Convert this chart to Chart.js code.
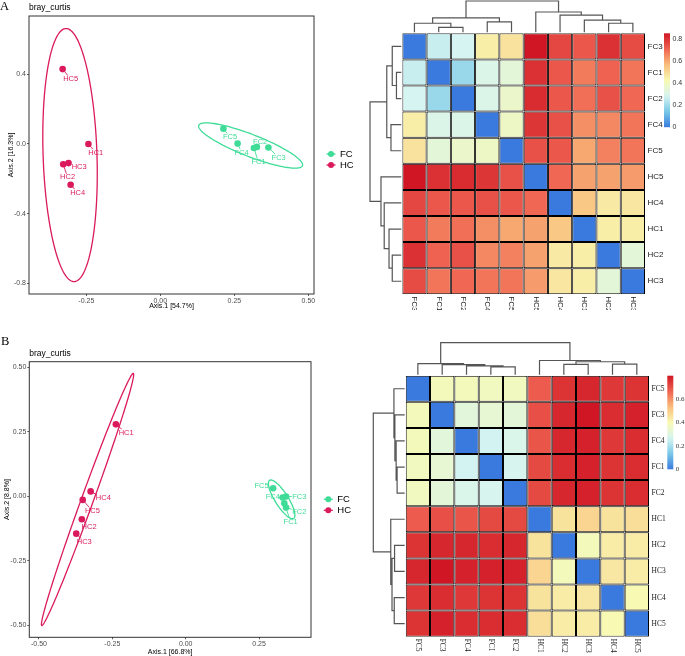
<!DOCTYPE html>
<html lang="en">
<head>
<meta charset="UTF-8">
<title>bray_curtis PCoA and distance heatmaps</title>
<script src="https://cdn.jsdelivr.net/npm/chart.js@4.4.0/dist/chart.umd.min.js"></script>
<style>
  body { margin: 0; background: #fff; }
  #wrap { position: relative; width: 685px; height: 656px; overflow: hidden; }
  canvas { position: absolute; }
  .tag { position: absolute; font-family: "Liberation Serif", "Times New Roman", serif; font-size: 12.5px; line-height: 12px; color: #000; }
</style>
</head>
<body>
<div id="wrap">
  <canvas id="pcoaA" width="360" height="310" style="left:0;top:0"></canvas>
  <canvas id="heatA" width="325" height="310" style="left:360px;top:0"></canvas>
  <canvas id="pcoaB" width="360" height="326" style="left:0;top:330px"></canvas>
  <canvas id="heatB" width="325" height="326" style="left:360px;top:330px"></canvas>
  <div class="tag" style="left:0;top:0">A</div>
  <div class="tag" style="left:1px;top:335px">B</div>
</div>
<script>
// ---- data -------------------------------------------------------------
var groups = ['FC', 'HC'];
var groupColors = ['#3EDC97', '#DA1A5C'];
var namesFC = ['FC1', 'FC2', 'FC3', 'FC4', 'FC5'];
var namesHC = ['HC1', 'HC2', 'HC3', 'HC4', 'HC5'];

// panel A, PCoA
var a_FC_axis1 = [0.316, 0.326, 0.365, 0.261, 0.213];
var a_FC_axis2 = [-0.023, -0.017, -0.020, 0.002, 0.088];
var a_HC_axis1 = [-0.243, -0.328, -0.310, -0.303, -0.330];
var a_HC_axis2 = [0.000, -0.117, -0.110, -0.234, 0.430];
var a_xTicks = [-0.25, 0, 0.25, 0.5];
var a_yTicks = [-0.8, -0.4, 0, 0.4];
// ellipses: centre x, centre y, semi-axis 1 (dx, dy), semi-axis 2 (dx, dy)
var a_FC_ellipse = [0.305, -0.009, 0.175, -0.116, 0.0136, 0.0588];
var a_HC_ellipse = [-0.305, -0.064, -0.0135, 0.727, 0.091, 0];

// panel B, PCoA
var b_FC_axis1 = [0.336, 0.342, 0.342, 0.330, 0.298];
var b_FC_axis2 = [-0.027, -0.044, -0.001, -0.005, 0.031];
var b_HC_axis1 = [-0.238, -0.354, -0.373, -0.324, -0.351];
var b_HC_axis2 = [0.279, -0.089, -0.145, 0.019, -0.014];
var b_xTicks = [-0.5, -0.25, 0, 0.25];
var b_yTicks = [-0.5, -0.25, 0, 0.25, 0.5];
var b_FC_ellipse = [0.327, -0.012, 0.041, -0.074, 0.019, 0.0135];
var b_HC_ellipse = [-0.3345, -0.0124, 0.156, 0.489, 0.0192, -0.008];

// panel A, distance heatmap
var a_order = ['FC3', 'FC1', 'FC2', 'FC4', 'FC5', 'HC5', 'HC4', 'HC1', 'HC2', 'HC3'];
var a_dist = [
  [0, 0.26, 0.28, 0.45, 0.48, 0.85, 0.76, 0.73, 0.80, 0.75],
  [0.26, 0, 0.19, 0.30, 0.34, 0.80, 0.73, 0.67, 0.71, 0.68],
  [0.28, 0.19, 0, 0.30, 0.37, 0.81, 0.73, 0.69, 0.74, 0.70],
  [0.45, 0.30, 0.30, 0, 0.38, 0.79, 0.74, 0.64, 0.65, 0.68],
  [0.48, 0.34, 0.37, 0.38, 0, 0.74, 0.73, 0.60, 0.66, 0.68],
  [0.85, 0.80, 0.81, 0.79, 0.74, 0, 0.70, 0.61, 0.61, 0.62],
  [0.76, 0.73, 0.73, 0.74, 0.73, 0.70, 0, 0.54, 0.46, 0.47],
  [0.73, 0.67, 0.69, 0.64, 0.60, 0.61, 0.54, 0, 0.45, 0.45],
  [0.80, 0.71, 0.74, 0.65, 0.66, 0.61, 0.46, 0.45, 0, 0.34],
  [0.75, 0.68, 0.70, 0.68, 0.68, 0.62, 0.47, 0.45, 0.34, 0]
];
// merges: [left, right, relative height]; numbers are leaves, 'mK' is merge K
var a_tree = [[1, 2, 0.155], [0, 'm0', 0.289], [3, 4, 0.33], ['m1', 'm2', 0.464],
  [8, 9, 0.289], [7, 'm4', 0.392], [6, 'm5', 0.546], [5, 'm6', 0.649], ['m3', 'm7', 1]];
var a_keyTicks = [0, 0.2, 0.4, 0.6, 0.8];

// panel B, distance heatmap
var b_order = ['FC5', 'FC3', 'FC4', 'FC1', 'FC2', 'HC1', 'HC2', 'HC3', 'HC4', 'HC5'];
var b_dist = [
  [0, 0.38, 0.38, 0.37, 0.37, 0.68, 0.75, 0.77, 0.74, 0.75],
  [0.38, 0, 0.31, 0.33, 0.32, 0.70, 0.77, 0.80, 0.76, 0.78],
  [0.38, 0.31, 0, 0.26, 0.28, 0.69, 0.77, 0.78, 0.74, 0.76],
  [0.37, 0.33, 0.26, 0, 0.27, 0.71, 0.76, 0.78, 0.75, 0.76],
  [0.37, 0.32, 0.28, 0.27, 0, 0.71, 0.77, 0.78, 0.75, 0.76],
  [0.68, 0.70, 0.69, 0.71, 0.71, 0, 0.45, 0.48, 0.45, 0.46],
  [0.75, 0.77, 0.77, 0.76, 0.77, 0.45, 0, 0.38, 0.43, 0.43],
  [0.77, 0.80, 0.78, 0.78, 0.78, 0.48, 0.38, 0, 0.44, 0.43],
  [0.74, 0.76, 0.74, 0.75, 0.75, 0.45, 0.43, 0.44, 0, 0.40],
  [0.75, 0.78, 0.76, 0.76, 0.76, 0.46, 0.43, 0.43, 0.40, 0]
];
var b_tree = [[3, 4, 0.242], [2, 'm0', 0.273], [1, 'm1', 0.313], [0, 'm2', 0.343],
  [6, 7, 0.323], [8, 9, 0.333], ['m4', 'm5', 0.404], [5, 'm6', 0.444], ['m3', 'm7', 1]];
var b_keyTicks = [0, 0.2, 0.4, 0.6];

// ---- helpers ----------------------------------------------------------
var SANS = '"Liberation Sans", Arial, sans-serif';
var SERIF = '"Liberation Serif", "Times New Roman", serif';
Chart.defaults.font.family = SANS;
Chart.defaults.animation = false;

var heatStops = [[0, [58, 122, 222]], [0.17, [122, 202, 232]], [0.33, [214, 244, 242]],
  [0.5, [248, 249, 178]], [0.67, [249, 188, 122]], [0.83, [240, 100, 82]], [1, [208, 22, 36]]];

function heatColor(t) {
  t = Math.max(0, Math.min(1, t));
  for (var i = 1; i < heatStops.length; i++) {
    if (t <= heatStops[i][0]) {
      var a = heatStops[i - 1], b = heatStops[i], f = (t - a[0]) / (b[0] - a[0]);
      var c = a[1].map(function (v, k) { return Math.round(v + (b[1][k] - v) * f); });
      return 'rgb(' + c.join(',') + ')';
    }
  }
  return 'rgb(208,22,36)';
}

function drawEllipse(chart, e, color) {
  var xs = chart.scales.x, ys = chart.scales.y, ctx = chart.ctx;
  ctx.save();
  ctx.beginPath();
  for (var k = 0; k <= 160; k++) {
    var t = k / 160 * 2 * Math.PI;
    var px = xs.getPixelForValue(e[0] + Math.cos(t) * e[2] + Math.sin(t) * e[4]);
    var py = ys.getPixelForValue(e[1] + Math.cos(t) * e[3] + Math.sin(t) * e[5]);
    if (k) ctx.lineTo(px, py); else ctx.moveTo(px, py);
  }
  ctx.closePath();
  ctx.strokeStyle = color;
  ctx.lineWidth = 1.3;
  ctx.stroke();
  ctx.restore();
}

function pcoaDecor(cfg) {
  return {
    id: 'pcoaDecor',
    beforeDatasetsDraw: function (chart) {
      cfg.ellipses.forEach(function (e, k) { drawEllipse(chart, e, groupColors[k]); });
    },
    afterDatasetsDraw: function (chart) {
      var ctx = chart.ctx, a = chart.chartArea;
      ctx.save();
      // sample labels with short leader lines
      ctx.font = '7.5px ' + SANS;
      ctx.textAlign = 'center';
      ctx.textBaseline = 'middle';
      chart.data.datasets.forEach(function (ds, k) {
        chart.getDatasetMeta(k).data.forEach(function (pt, i) {
          var name = cfg.names[k][i], off = cfg.offsets[name];
          var lx = pt.x + off[0], ly = pt.y + off[1];
          var hw = ctx.measureText(name).width / 2 + 0.5, hh = 3.5;
          var s = Math.min(off[0] ? hw / Math.abs(off[0]) : 1e9, off[1] ? hh / Math.abs(off[1]) : 1e9);
          if (s < 1) {
            ctx.beginPath();
            ctx.moveTo(pt.x, pt.y);
            ctx.lineTo(lx - off[0] * s, ly - off[1] * s);
            ctx.strokeStyle = groupColors[k];
            ctx.lineWidth = 0.9;
            ctx.stroke();
          }
          ctx.fillStyle = groupColors[k];
          ctx.fillText(name, lx, ly);
        });
      });
      // panel border
      ctx.strokeStyle = '#333';
      ctx.lineWidth = 1;
      ctx.strokeRect(a.left, a.top, a.right - a.left, a.bottom - a.top);
      // title
      ctx.fillStyle = '#000';
      ctx.textAlign = 'left';
      ctx.font = '8.5px ' + SANS;
      ctx.fillText(cfg.title, a.left, cfg.titleY);
      // legend
      ctx.font = '9.5px ' + SANS;
      groups.forEach(function (g, k) {
        var y = cfg.legend.y[k], x = cfg.legend.x;
        ctx.strokeStyle = groupColors[k];
        ctx.lineWidth = 1.3;
        ctx.beginPath();
        ctx.moveTo(x - 4.5, y);
        ctx.lineTo(x + 4.5, y);
        ctx.stroke();
        ctx.fillStyle = groupColors[k];
        ctx.beginPath();
        ctx.arc(x, y, 3, 0, 2 * Math.PI);
        ctx.fill();
        ctx.fillStyle = '#000';
        ctx.fillText(g, x + 9, y);
      });
      ctx.restore();
    }
  };
}

function pcoaAxis(range, ticks, dec, title, isX, fixed, titlePad) {
  return {
    type: 'linear',
    min: range[0],
    max: range[1],
    afterBuildTicks: function (s) { s.ticks = ticks.map(function (v) { return { value: v }; }); },
    ticks: {
      autoSkip: false, maxRotation: 0, padding: 1, color: '#4D4D4D', font: { size: 7 },
      callback: function (v) { return Number(v).toFixed(dec); }
    },
    grid: { drawOnChartArea: false, drawTicks: true, tickLength: 2, color: '#333', lineWidth: 0.8 },
    border: { display: false },
    title: { display: true, text: title, color: '#000', font: { size: 7 }, padding: titlePad },
    afterFit: function (s) { if (isX) s.height = fixed; else s.width = fixed; }
  };
}

function pcoaChart(id, cfg) {
  var datasets = groups.map(function (g, k) {
    return {
      label: g,
      data: cfg.x[k].map(function (v, i) { return { x: v, y: cfg.y[k][i] }; }),
      backgroundColor: groupColors[k],
      borderWidth: 0,
      pointRadius: 3.3,
      pointHoverRadius: 3.3
    };
  });
  new Chart(document.getElementById(id), {
    type: 'scatter',
    data: { datasets: datasets },
    options: {
      responsive: false,
      animation: false,
      layout: { padding: cfg.pad },
      plugins: { legend: { display: false }, tooltip: { enabled: false } },
      scales: {
        x: pcoaAxis(cfg.xRange, cfg.xTicks, 2, cfg.xTitle, true, cfg.xH, { top: 0, bottom: 0 }),
        y: pcoaAxis(cfg.yRange, cfg.yTicks, cfg.yDec, cfg.yTitle, false, cfg.yW, { top: cfg.yTitlePad, bottom: 0 })
      }
    },
    plugins: [pcoaDecor(cfg)]
  });
}

function drawTree(ctx, tree, leafPix, hPix, horizontal) {
  var nodes = [];
  function node(ref) { return typeof ref === 'number' ? { c: leafPix(ref), h: 0 } : nodes[+ref.slice(1)]; }
  ctx.beginPath();
  tree.forEach(function (m) {
    var p = node(m[0]), q = node(m[1]), top = hPix(m[2]);
    [[p.c, hPix(p.h)], [p.c, top], [q.c, top], [q.c, hPix(q.h)]].forEach(function (pt, j) {
      var X = horizontal ? pt[0] : pt[1], Y = horizontal ? pt[1] : pt[0];
      if (j) ctx.lineTo(X, Y); else ctx.moveTo(X, Y);
    });
    nodes.push({ c: (p.c + q.c) / 2, h: m[2] });
  });
  ctx.stroke();
}

function heatDecor(cfg, max) {
  return {
    id: 'heatDecor',
    afterDraw: function (chart) {
      var ctx = chart.ctx, a = chart.chartArea, xs = chart.scales.x, ys = chart.scales.y;
      var n = cfg.order.length;
      function colPix(i) { return xs.getPixelForValue(i); }
      function rowPix(i) { return ys.getPixelForValue(n - i - 0.5); }
      ctx.save();
      ctx.strokeStyle = '#555';
      ctx.lineWidth = 1.2;
      drawTree(ctx, cfg.tree, colPix, function (h) { return a.top - 1 - h * cfg.treeSpan[0]; }, true);
      drawTree(ctx, cfg.tree, rowPix, function (h) { return a.left - 1 - h * cfg.treeSpan[1]; }, false);

      ctx.fillStyle = '#222';
      ctx.font = cfg.font;
      ctx.textAlign = 'left';
      ctx.textBaseline = 'middle';
      cfg.order.forEach(function (name, i) {
        ctx.fillText(name, a.right + 2.5, rowPix(i));
        ctx.save();
        ctx.translate(colPix(i), a.bottom + 2);
        ctx.rotate(Math.PI / 2);
        ctx.fillText(name, 0, 0);
        ctx.restore();
      });

      var k = cfg.key;
      var g = ctx.createLinearGradient(0, k.bottom, 0, k.top);
      for (var s = 0; s <= 20; s++) g.addColorStop(s / 20, heatColor(s / 20));
      ctx.fillStyle = g;
      ctx.fillRect(k.x, k.top, k.w, k.bottom - k.top);
      ctx.fillStyle = '#333';
      ctx.font = cfg.keyFont;
      cfg.keyTicks.forEach(function (v) {
        ctx.fillText(String(v), k.x + k.w + 2.5, k.bottom - v / max * (k.bottom - k.top));
      });
      ctx.restore();
    }
  };
}

function heatChart(id, cfg) {
  var n = cfg.order.length;
  var max = Math.max.apply(null, cfg.dist.map(function (r) { return Math.max.apply(null, r); }));
  var datasets = [];
  for (var r = n - 1; r >= 0; r--) {
    datasets.push({
      label: cfg.order[r],
      data: cfg.dist[r].map(function () { return 1; }),
      backgroundColor: cfg.dist[r].map(function (v) { return heatColor(v / max); }),
      borderColor: '#000',
      borderWidth: 1,
      borderSkipped: false,
      inflateAmount: 0,
      barPercentage: 1,
      categoryPercentage: 1
    });
  }
  new Chart(document.getElementById(id), {
    type: 'bar',
    data: { labels: cfg.order, datasets: datasets },
    options: {
      responsive: false,
      animation: false,
      layout: { padding: cfg.pad },
      plugins: { legend: { display: false }, tooltip: { enabled: false } },
      scales: {
        x: { display: false, stacked: true },
        y: { display: false, stacked: true, min: 0, max: n }
      }
    },
    plugins: [heatDecor(cfg, max)]
  });
}

// ---- charts -----------------------------------------------------------
pcoaChart('pcoaA', {
  x: [a_FC_axis1, a_HC_axis1], y: [a_FC_axis2, a_HC_axis2], names: [namesFC, namesHC],
  xRange: [-0.4436, 0.519], yRange: [-0.862, 0.735], xTicks: a_xTicks, yTicks: a_yTicks, yDec: 1,
  xTitle: 'Axis.1 [54.7%]', yTitle: 'Axis.2 [16.3%]', title: 'bray_curtis',
  ellipses: [a_FC_ellipse, a_HC_ellipse],
  pad: { top: 16, right: 46, left: 0, bottom: 0 }, xH: 16, yW: 29, yTitlePad: 7, titleY: 7.5,
  legend: { x: 331, y: [154, 165] },
  offsets: {
    HC1: [7.4, 8.7], HC2: [4.4, 13], HC3: [10.6, 4.3], HC4: [7, 8], HC5: [8, 10],
    FC1: [4.6, 14.3], FC2: [3.3, -4.7], FC3: [10.3, 10.3], FC4: [4, 9], FC5: [6.7, 8.3]
  }
});

pcoaChart('pcoaB', {
  x: [b_FC_axis1, b_HC_axis1], y: [b_FC_axis2, b_HC_axis2], names: [namesFC, namesHC],
  xRange: [-0.533, 0.427], yRange: [-0.547, 0.522], xTicks: b_xTicks, yTicks: b_yTicks, yDec: 2,
  xTitle: 'Axis.1 [66.8%]', yTitle: 'Axis.2 [8.8%]', title: 'bray_curtis',
  ellipses: [b_FC_ellipse, b_HC_ellipse],
  pad: { top: 31.7, right: 49, left: 0, bottom: 0 }, xH: 18.7, yW: 29.3, yTitlePad: 2.8, titleY: 23.3,
  legend: { x: 328.3, y: [169.3, 180.3] },
  offsets: {
    HC1: [10.3, 8.3], HC2: [7.3, 8], HC3: [8, 8.3], HC4: [12.7, 7], HC5: [9.7, 11],
    FC1: [6.4, 18.4], FC2: [13.3, 4], FC3: [13.3, 0.2], FC4: [-9.7, -0.8], FC5: [-11.6, -2.6]
  }
});

heatChart('heatA', {
  order: a_order, dist: a_dist, tree: a_tree, keyTicks: a_keyTicks,
  pad: { left: 42.3, top: 33.3, right: 40, bottom: 15.7 }, treeSpan: [31.3, 31.3],
  font: '8px ' + SANS, keyFont: '7px ' + SANS,
  key: { x: 304, w: 6, top: 33.3, bottom: 127.2 }
});

heatChart('heatB', {
  order: b_order, dist: b_dist, tree: b_tree, keyTicks: b_keyTicks,
  pad: { left: 45.7, top: 45.7, right: 36, bottom: 19.3 }, treeSpan: [32, 31.4],
  font: '7.5px ' + SERIF, keyFont: '7px ' + SERIF,
  key: { x: 307.3, w: 6, top: 45.7, bottom: 139.3 }
});
</script>
</body>
</html>
